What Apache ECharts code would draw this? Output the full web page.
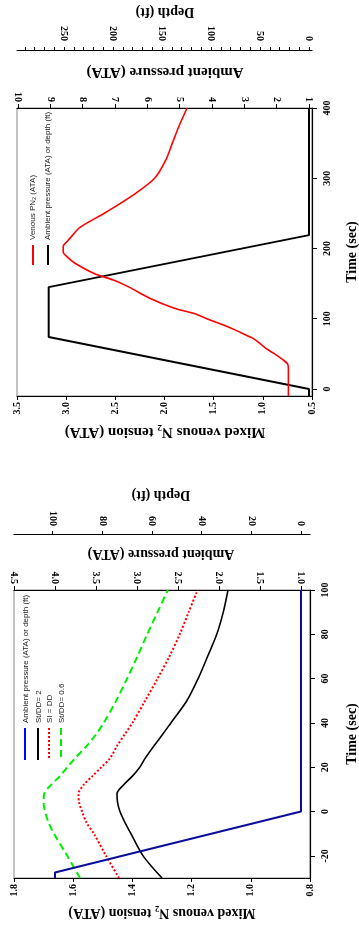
<!DOCTYPE html>
<html><head><meta charset="utf-8">
<script src="https://cdn.jsdelivr.net/npm/echarts@6/dist/echarts.min.js"></script>
<style>html,body{margin:0;padding:0;background:#fff}#c{width:359px;height:934px}</style>
</head><body><div id="c"></div><script>
// ---------- Panel B (upper in picture): 0–400 s exposure ----------
const timeB_ambient = [-10, 0, 74, 145, 219, 400];
const ambientB = [1, 1, 9.05, 9.05, 1, 1];
const timeB_venous = [-10, 0, 30, 36, 42, 50, 57, 65, 72, 82, 91, 100, 106, 116, 130, 145, 155, 164, 179, 188, 195, 203, 210, 218, 230, 252, 276, 300, 325, 350, 375, 400];
const venousB = [0.74, 0.74, 0.74, 0.75, 0.80, 0.88, 0.96, 1.03, 1.10, 1.25, 1.40, 1.57, 1.67, 1.92, 2.16, 2.36, 2.52, 2.71, 2.91, 2.99, 3.03, 3.03, 2.99, 2.94, 2.86, 2.59, 2.32, 2.10, 1.99, 1.92, 1.85, 1.77];
const n2TicksB = [0.5, 1.0, 1.5, 2.0, 2.5, 3.0, 3.5];
const ambTicksB = [1, 2, 3, 4, 5, 6, 7, 8, 9, 10];
const depthTicksB = [0, 50, 100, 150, 200, 250];
const depthMinorB = [0,10,20,30,40,50,60,70,80,90,100,110,120,130,140,150,160,170,180,190,200,210,220,230,240,250,260,270,280,290];
const timeTicksB = [0, 100, 200, 300, 400];

// ---------- Panel A (lower in picture): -30–100 s ----------
const timeA_ambient = [-30, -27.5, 0, 100];
const ambientA = [4.0, 4.0, 1.0, 1.0];
const timeA = [-30, -20, -10, -5, 0, 4, 8, 12, 16, 20, 24, 30, 35, 40, 50, 60, 70, 80, 90, 100];
const stdd2 = [1.30, 1.364, 1.405, 1.425, 1.442, 1.45, 1.452, 1.43, 1.40, 1.375, 1.357, 1.325, 1.297, 1.27, 1.216, 1.178, 1.146, 1.115, 1.093, 1.077];
const sidd = [1.445, 1.489, 1.53, 1.555, 1.57, 1.58, 1.582, 1.565, 1.535, 1.505, 1.476, 1.45, 1.425, 1.40, 1.357, 1.315, 1.275, 1.24, 1.21, 1.18];
const stdd06 = [1.577, 1.62, 1.665, 1.683, 1.695, 1.70, 1.698, 1.675, 1.645, 1.62, 1.594, 1.552, 1.522, 1.497, 1.455, 1.418, 1.383, 1.35, 1.315, 1.28];
const n2TicksA = [0.8, 1.0, 1.2, 1.4, 1.6, 1.8];
const ambTicksA = [1.0, 1.5, 2.0, 2.5, 3.0, 3.5, 4.0, 4.5];
const depthTicksA = [0, 20, 40, 60, 80, 100];
const timeTicksA = [-20, 0, 20, 40, 60, 80, 100];

const zip = (t, v) => t.map((ti, i) => [v[i], ti]);
const SERIF = 'Liberation Serif';
const lab = (vals, rot, margin, fmt) => ({
  customValues: vals, rotate: rot, margin: margin,
  fontFamily: SERIF, fontWeight: 'bold', fontSize: 10, color: '#000',
  formatter: fmt || (v => String(v))
});
const tick = (vals, len) => ({ show: true, customValues: vals, length: len || 4, lineStyle: { color: '#000', width: 1 } });
const nameStyle = (size) => ({ fontFamily: SERIF, fontWeight: 'bold', fontSize: size, color: '#000' });
const axLine = { show: true, onZero: false, lineStyle: { color: '#000', width: 1.2 } };
const title = (txt, x, y, size) => ({ type: 'text', x: x, y: y, rotation: Math.PI, silent: true,
  style: { text: txt, font: 'bold ' + size + 'px "Liberation Serif"', fill: '#000', align: 'center', verticalAlign: 'middle' } });
const legText = (txt, x, y) => ({ type: 'text', x: x, y: y, rotation: Math.PI / 2, silent: true,
  style: { text: txt, font: '8px "Liberation Sans"', fill: '#222', align: 'left', verticalAlign: 'middle' } });

const option = {
  animation: false,
  backgroundColor: '#fff',
  grid: [
    { left: 17, right: 47, top: 108, height: 288, show: true, borderColor: '#888', borderWidth: 1, containLabel: false, outerBoundsMode: 'none' },
    { left: 14, right: 49, top: 590, height: 288, show: true, borderColor: '#888', borderWidth: 1, containLabel: false, outerBoundsMode: 'none' }
  ],
  xAxis: [
    { gridIndex: 0, type: 'value', position: 'bottom', min: 0.5, max: 3.5, inverse: true,
      axisLine: axLine, axisTick: tick(n2TicksB), axisLabel: lab(n2TicksB, 90, 6, v => v.toFixed(1)), splitLine: { show: false } },
    { gridIndex: 0, type: 'value', position: 'top', min: 0.907, max: 10.03, inverse: true,
      axisLine: axLine, axisTick: tick(ambTicksB), axisLabel: lab(ambTicksB, 90, 6), splitLine: { show: false } },
    { gridIndex: 0, type: 'value', position: 'top', offset: 58, min: -3.07, max: 297.99, inverse: true,
      axisLine: axLine, axisTick: tick(depthMinorB, 3), axisLabel: lab(depthTicksB, 90, 9), splitLine: { show: false } },
    { gridIndex: 1, type: 'value', position: 'bottom', min: 0.8, max: 1.8, inverse: true,
      axisLine: axLine, axisTick: tick(n2TicksA), axisLabel: lab(n2TicksA, 90, 6, v => v.toFixed(1)), splitLine: { show: false } },
    { gridIndex: 1, type: 'value', position: 'top', min: 0.89, max: 4.5, inverse: true,
      axisLine: axLine, axisTick: tick(ambTicksA), axisLabel: lab(ambTicksA, 90, 6, v => v.toFixed(1)), splitLine: { show: false } },
    { gridIndex: 1, type: 'value', position: 'top', offset: 56, min: -3.63, max: 115.5, inverse: true,
      axisLine: axLine, axisTick: tick(depthTicksA, 3), axisLabel: lab(depthTicksA, 90, 8), splitLine: { show: false } }
  ],
  yAxis: [
    { gridIndex: 0, type: 'value', position: 'right', min: -10, max: 400,
      axisLine: axLine, axisTick: tick(timeTicksB, 5), axisLabel: lab(timeTicksB, 90, 10), splitLine: { show: false },
      name: 'Time (sec)', nameLocation: 'middle', nameRotate: 90, nameGap: 33, nameTextStyle: nameStyle(14) },
    { gridIndex: 1, type: 'value', position: 'right', min: -30, max: 100,
      axisLine: axLine, axisTick: tick(timeTicksA, 5), axisLabel: lab(timeTicksA, 90, 10), splitLine: { show: false },
      name: 'Time (sec)', nameLocation: 'middle', nameRotate: 90, nameGap: 35, nameTextStyle: nameStyle(14) }
  ],
  series: [
    { type: 'line', name: 'Ambient pressure (ATA) or depth (ft)', xAxisIndex: 1, yAxisIndex: 0, showSymbol: false,
      data: zip(timeB_ambient, ambientB), lineStyle: { color: '#000', width: 2 } },
    { type: 'line', name: 'Venous PN2 (ATA)', xAxisIndex: 0, yAxisIndex: 0, showSymbol: false, smooth: 0.3,
      data: zip(timeB_venous, venousB), lineStyle: { color: '#ff0000', width: 1.6 } },
    { type: 'line', name: 'St/DD= 2', xAxisIndex: 3, yAxisIndex: 1, showSymbol: false, smooth: 0.3,
      data: zip(timeA, stdd2), lineStyle: { color: '#000', width: 1.6 } },
    { type: 'line', name: 'SI = DD', xAxisIndex: 3, yAxisIndex: 1, showSymbol: false, smooth: 0.3,
      data: zip(timeA, sidd), lineStyle: { color: '#ff0000', width: 2, type: [2, 2] } },
    { type: 'line', name: 'St/DD= 0.6', xAxisIndex: 3, yAxisIndex: 1, showSymbol: false, smooth: 0.3,
      data: zip(timeA, stdd06), lineStyle: { color: '#00ee00', width: 2, type: [7, 4] } },
    { type: 'line', name: 'Ambient pressure (ATA) or depth (ft) A', xAxisIndex: 4, yAxisIndex: 1, showSymbol: false,
      data: zip(timeA_ambient, ambientA), lineStyle: { color: '#0c0c9c', width: 2 } }
  ],
  graphic: [
    // axis titles (upside down, as in the rotated figure)
    title('Mixed venous N\u2082 tension (ATA)', 165, 432, 15),
    title('Ambient pressure (ATA)', 165, 72, 15),
    title('Depth (ft)', 165, 12, 14),
    title('Mixed venous N\u2082 tension (ATA)', 162, 913, 14),
    title('Ambient pressure (ATA)', 161, 554, 14),
    title('Depth (ft)', 161, 495, 14),
    // legend panel B
    { type: 'line', shape: { x1: 33, y1: 245, x2: 33, y2: 265 }, style: { stroke: '#ff0000', lineWidth: 2 } },
    { type: 'line', shape: { x1: 48, y1: 245, x2: 48, y2: 265 }, style: { stroke: '#000', lineWidth: 2 } },
    legText('Venous PN\u2082 (ATA)', 33, 240),
    legText('Ambient pressure (ATA) or depth (ft)', 48, 240),
    // legend panel A
    { type: 'line', shape: { x1: 25, y1: 728, x2: 25, y2: 760 }, style: { stroke: '#0000ff', lineWidth: 2 } },
    { type: 'line', shape: { x1: 38, y1: 728, x2: 38, y2: 760 }, style: { stroke: '#000', lineWidth: 2 } },
    { type: 'line', shape: { x1: 49, y1: 728, x2: 49, y2: 760 }, style: { stroke: '#ff0000', lineWidth: 2, lineDash: [2, 2] } },
    { type: 'line', shape: { x1: 61, y1: 728, x2: 61, y2: 760 }, style: { stroke: '#00ee00', lineWidth: 2, lineDash: [7, 4] } },
    legText('Ambient pressure (ATA) or depth (ft)', 26, 723),
    legText('St/DD= 2', 39, 723),
    legText('SI = DD', 50, 723),
    legText('St/DD= 0.6', 62, 723)
  ]
};
const chart = echarts.init(document.getElementById('c'), null, { renderer: 'canvas' });
chart.setOption(option);
</script></body></html>
